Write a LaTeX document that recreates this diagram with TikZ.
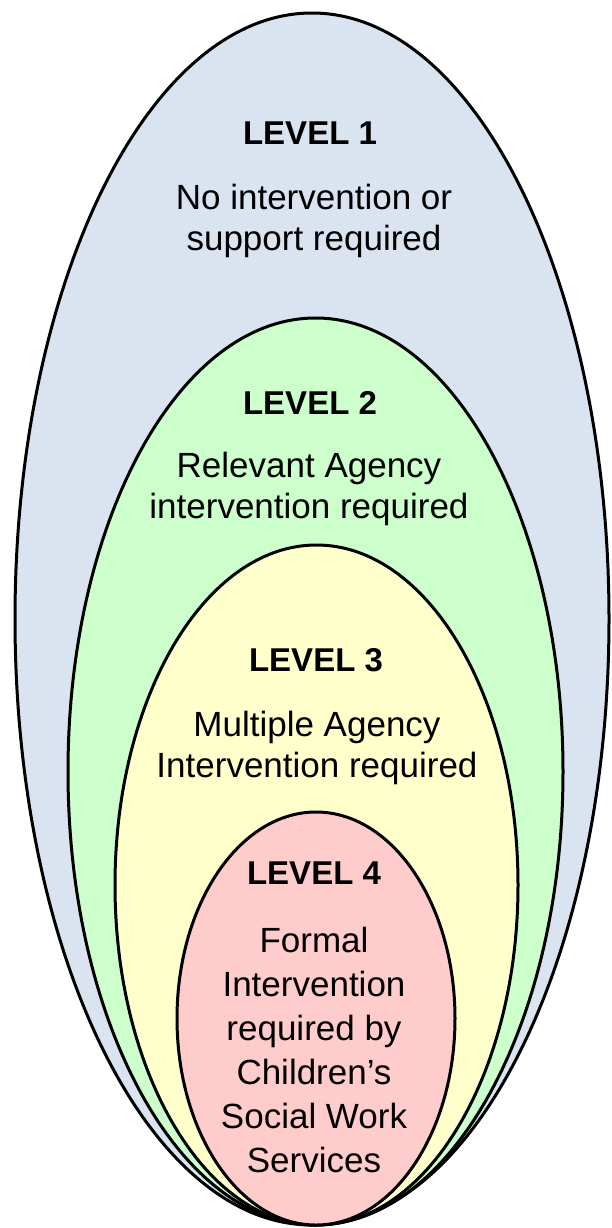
\documentclass[tikz,border=0pt]{standalone}
\usepackage{fontspec}
\setmainfont{Liberation Sans}
\usetikzlibrary{shapes.geometric}
\definecolor{lvone}{HTML}{DAE3F0}
\definecolor{lvtwo}{HTML}{CCFFCC}
\definecolor{lvthree}{HTML}{FFFFCC}
\definecolor{lvfour}{HTML}{FFCCCC}
\begin{document}
\begin{tikzpicture}[x=1pt,y=-1pt,
  oval/.style={ellipse, draw=black, line width=3pt, inner sep=0pt},
  head/.style={font=\fontsize{33}{38}\selectfont\bfseries, inner sep=0pt},
  body/.style={font=\fontsize{35}{41}\selectfont, align=center, inner sep=0pt},
  bodyfour/.style={font=\fontsize{35}{44}\selectfont, align=center, inner sep=0pt}]
\useasboundingbox (0,0) rectangle (611,1228);
\node[oval, fill=lvone, minimum width=594, minimum height=1212] (e1) at (312,619) {};
\node[oval, fill=lvtwo, minimum width=495, minimum height=907] (e2) at (315.5,771.5) {};
\node[oval, fill=lvthree, minimum width=403, minimum height=680] (e3) at (316.5,885) {};
\node[oval, fill=lvfour, minimum width=278, minimum height=413] (e4) at (316,1018.5) {};
\node[head] (h1) at (310,133) {LEVEL 1};
\node[body] (t1) at (314,221) {No intervention or\\support required};
\node[head] (h2) at (310,403) {LEVEL 2};
\node[body] (t2) at (309,489) {Relevant Agency\\intervention required};
\node[head] (h3) at (316,660) {LEVEL 3};
\node[body] (t3) at (317,748) {Multiple Agency\\Intervention required};
\node[head] (h4) at (314,873) {LEVEL 4};
\node[bodyfour] (t4) at (314,1050) {Formal\\Intervention\\required by\\Children’s\\Social Work\\Services};
\end{tikzpicture}
\end{document}
